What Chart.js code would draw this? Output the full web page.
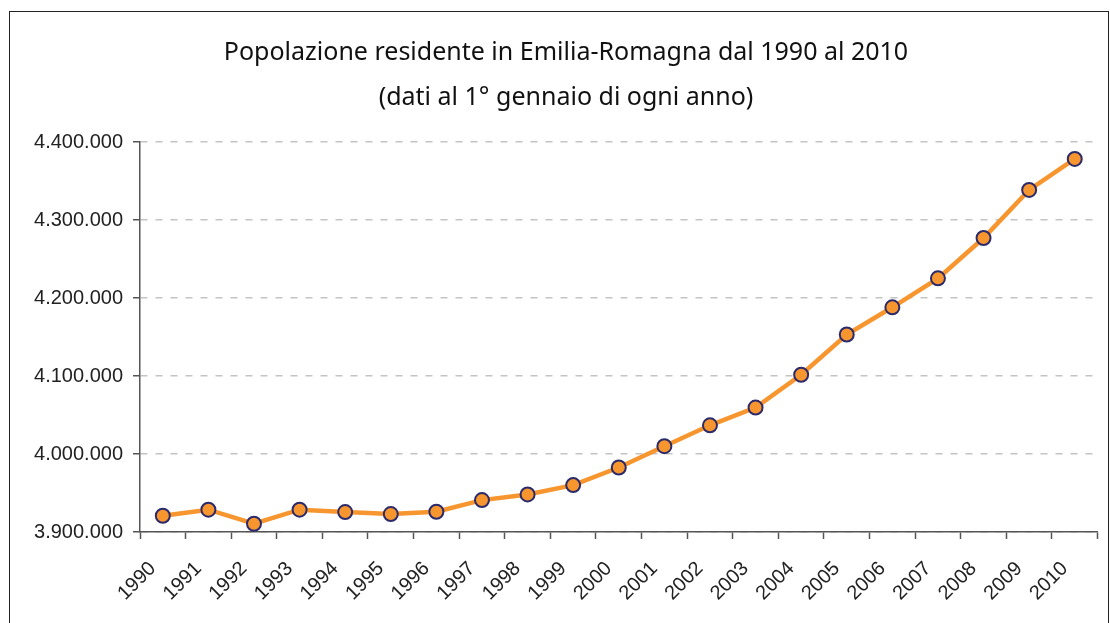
<!DOCTYPE html>
<html>
<head>
<meta charset="utf-8">
<script src="https://cdn.jsdelivr.net/npm/chart.js@4"></script>
<style>
    html, body { margin: 0; padding: 0; background: #fff; }
    #frame { position: absolute; left: 9px; top: 11px; width: 1098px; height: 640px; border: 1px solid #222; }
    #wrap { position: absolute; left: 0; top: 0; width: 1110px; height: 623px; }
</style>
</head>
<body>
<div id="frame"></div>
<div id="wrap"><canvas id="popChart"></canvas></div>
<script>
// Anni (categorie asse x)
const anni = ['1990', '1991', '1992', '1993', '1994', '1995', '1996', '1997', '1998', '1999', '2000',
    '2001', '2002', '2003', '2004', '2005', '2006', '2007', '2008', '2009', '2010'];

// Popolazione residente al 1° gennaio
const popolazione = [3920800, 3928600, 3910600, 3928600, 3925600, 3923000, 3926000, 3940900, 3948200, 3960100, 3982700,
    4010000, 4036800, 4059500, 4101600, 4153200, 4188100, 4225200, 4276900, 4338600, 4378300];

// Tacche asse y
const tickY = [3900000, 4000000, 4100000, 4200000, 4300000, 4400000];

const titolo = ['Popolazione residente in Emilia-Romagna dal 1990 al 2010', '(dati al 1° gennaio di ogni anno)'];

function formatta(v) {
    return String(v).replace(/\B(?=(\d{3})+(?!\d))/g, '.');
}

const ctx = document.getElementById('popChart');

new Chart(ctx, {
    type: 'line',
    data: {
        labels: anni,
        datasets: [{
            label: 'Popolazione',
            data: popolazione,
            borderColor: '#F7962F',
            borderWidth: 4.5,
            tension: 0,
            fill: false,
            pointBackgroundColor: '#F7962F',
            pointBorderColor: '#2B2A6B',
            pointBorderWidth: 2,
            pointRadius: 7
        }]
    },
    options: {
        responsive: true,
        maintainAspectRatio: false,
        animation: false,
        layout: {
            padding: { left: 34, right: 12, top: 0, bottom: 0 }
        },
        plugins: {
            legend: { display: false },
            tooltip: { enabled: false },
            title: {
                display: true,
                text: titolo,
                color: '#111',
                font: { family: 'Noto Sans', size: 25, weight: 'normal', lineHeight: 1.82 },
                padding: { top: 30, bottom: 21 }
            }
        },
        scales: {
            x: {
                offset: true,
                afterFit: function(scale) { scale.height = 91; },
                border: { color: '#555', width: 1.5 },
                grid: {
                    offset: true,
                    drawOnChartArea: false,
                    drawTicks: true,
                    tickLength: 7,
                    tickColor: '#555',
                    tickWidth: 1.5
                },
                ticks: {
                    minRotation: 45,
                    maxRotation: 45,
                    autoSkip: false,
                    padding: 18,
                    labelOffset: -10,
                    color: '#222',
                    font: { family: 'Liberation Sans', size: 20 }
                }
            },
            y: {
                min: 3900000,
                max: 4400000,
                afterFit: function(scale) { scale.width = 106; },
                afterBuildTicks: function(scale) {
                    scale.ticks = tickY.map(v => ({ value: v }));
                },
                border: { color: '#555', width: 1.5, dash: [7, 8] },
                grid: {
                    color: '#C4C4C4',
                    lineWidth: 1.5,
                    tickLength: 7,
                    tickColor: '#555',
                    tickWidth: 1.5,
                    tickBorderDash: []
                },
                ticks: {
                    padding: 10,
                    color: '#222',
                    font: { family: 'Liberation Sans', size: 20 },
                    callback: function(value) { return formatta(value); }
                }
            }
        }
    }
});
</script>
</body>
</html>
